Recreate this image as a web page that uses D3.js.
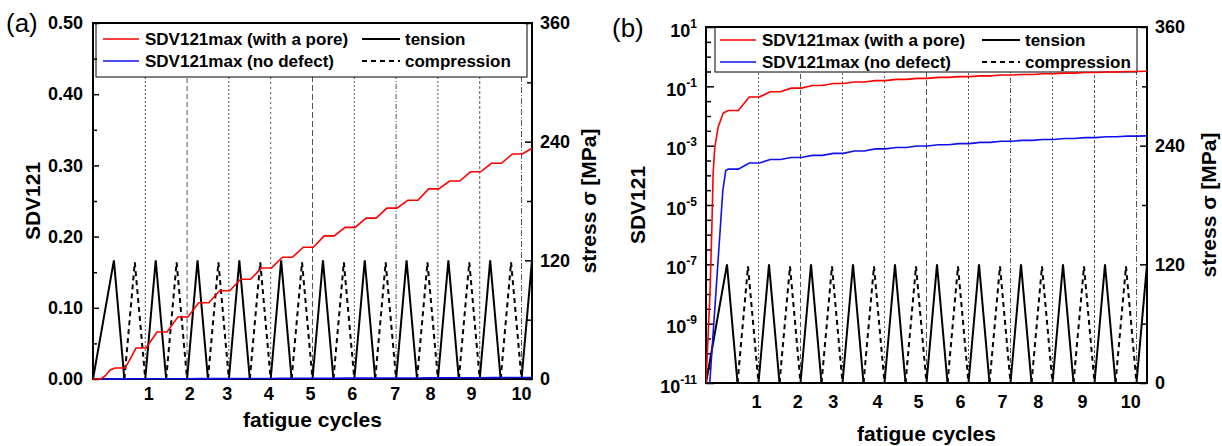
<!DOCTYPE html>
<html>
<head>
<meta charset="utf-8">
<script src="https://cdn.jsdelivr.net/npm/d3@7/dist/d3.min.js"></script>
<style>
    body { margin: 0; background: #fff; }
    text { font-family: Arial, 'Liberation Sans', sans-serif; }
</style>
</head>
<body>
<svg id="chart" width="1222" height="446"></svg>
<script>
// ---- data (time axis in load cycles) ----
const timeRange = [0, 10.5];
const linRange = [0, 0.5];
const logRange = [1e-11, 10];
const stressRange = [0, 360];

// peak times of the tension / compression half cycles
const tensionPeakT = [0.5, 1.5, 2.5, 3.5, 4.5, 5.5, 6.5, 7.5, 8.5, 9.5, 10.5];
const compressionPeakT = [1, 2, 3, 4, 5, 6, 7, 8, 9, 10];
const tensionPeak = 120;
const compressionPeak = 118;

// every load half cycle in order (tension, compression, ...)
const halfPeakT = [0.5, 1, 1.5, 2, 2.5, 3, 3.5, 4, 4.5, 5, 5.5, 6, 6.5, 7, 7.5, 8, 8.5, 9, 9.5, 10, 10.5];

// SDV121max after each half cycle
const poreSteps = [0.0154, 0.0435, 0.066, 0.087, 0.107, 0.124, 0.140, 0.156, 0.171, 0.185, 0.201,
                   0.213, 0.226, 0.240, 0.251, 0.267, 0.278, 0.291, 0.303, 0.316, 0.324];
const noDefectSteps = [1.62e-4, 2.6e-4, 3.4e-4, 4.0e-4, 4.7e-4, 5.5e-4, 6.6e-4, 7.8e-4, 8.7e-4, 9.8e-4, 1.07e-3,
                       1.17e-3, 1.29e-3, 1.41e-3, 1.51e-3, 1.62e-3, 1.74e-3, 1.86e-3, 2.0e-3, 2.09e-3, 2.14e-3];
// first loading ramp
const poreStart = [[0, 1e-11], [0.095, 1.1e-8], [0.136, 1.1e-6], [0.17, 1.2e-4], [0.21, 9e-4], [0.29, 4.3e-3], [0.41, 0.0126]];
const noDefectStart = [[0.09, 1e-11], [0.40, 3e-5], [0.47, 1.45e-4]];

// cycle boundaries and cycle labels
const cycleLines = [1.25, 2.25, 3.25, 4.25, 5.25, 6.25, 7.25, 8.25, 9.25, 10.25];
const cycleLabels = ['1', '2', '3', '4', '5', '6', '7', '8', '9', '10'];
const labelPosA = [1.32, 2.30, 3.20, 4.19, 5.19, 6.19, 7.22, 8.06, 9.04, 10.24];
const labelPosB = [1.19, 2.17, 3.02, 4.07, 5.05, 6.05, 7.05, 7.90, 8.95, 10.10];

const sdvTicks = [0, 0.1, 0.2, 0.3, 0.4, 0.5];
const sdvMinor = [0.05, 0.15, 0.25, 0.35, 0.45];
const logExp = [1, -1, -3, -5, -7, -9, -11];
const stressTicks = [0, 120, 240, 360];
const stressMinor = [60, 180, 300];

const legendSeries = ['SDV121max (with a pore)', 'SDV121max (no defect)'];
const legendLoads = ['tension', 'compression'];

const fontFamily = "Arial, 'Liberation Sans', sans-serif";
const red = '#ff0000', blue = '#1010ee';
const svg = d3.select('#chart');

function damagePath(start, steps) {
    let pts = start.slice();
    steps.forEach((v, j) => {
        let p = halfPeakT[j];
        if (j > 0) pts.push([p - 0.23, steps[j - 1]]);
        pts.push([Math.min(p + 0.03, timeRange[1]), v]);
    });
    return pts;
}

function drawPanel(p) {
    let g = svg.append('g');
    let x = d3.scaleLinear().domain(timeRange).range([p.left, p.right]);
    let y = p.log
        ? d3.scaleLog().domain(logRange).range([p.bottom, p.top])
        : d3.scaleLinear().domain(linRange).range([p.bottom, p.top]);
    let ys = d3.scaleLinear().domain(stressRange).range([p.bottom, p.top]);

    g.append('clipPath').attr('id', 'clip' + p.id)
        .append('rect')
        .attr('x', p.left).attr('y', p.top - 2)
        .attr('width', p.right - p.left).attr('height', p.bottom - p.top + 3);

    // cycle boundaries
    let dashes = ['2,2', '5,3', '2,2', '2,3', '6,3', '2,2', '5,2,1,2', '2,2', '3,2', '6,2,1,2'];
    g.append('g').selectAll('line')
        .data(cycleLines)
        .enter().append('line')
        .attr('x1', d => x(d)).attr('x2', d => x(d))
        .attr('y1', p.bottom).attr('y2', p.top)
        .attr('stroke', '#555')
        .attr('stroke-width', 1)
        .attr('stroke-dasharray', (d, i) => dashes[i]);

    let data = g.append('g').attr('clip-path', `url(#clip${p.id})`);
    let sline = d3.line().x(d => x(d[0])).y(d => ys(d[1]));

    // stress: tension (solid), compression (dashed)
    data.selectAll('.ten')
        .data(tensionPeakT)
        .enter().append('path')
        .attr('d', (t, i) => sline([[i === 0 ? 0 : t - 0.25, 0], [t, tensionPeak], [t + 0.25, 0]]))
        .attr('fill', 'none').attr('stroke', '#000').attr('stroke-width', 2);
    data.selectAll('.com')
        .data(compressionPeakT)
        .enter().append('path')
        .attr('d', t => sline([[t - 0.25, 0], [t, compressionPeak], [t + 0.25, 0]]))
        .attr('fill', 'none').attr('stroke', '#000').attr('stroke-width', 2)
        .attr('stroke-dasharray', '5,4');

    // legend box
    let lg = g.append('g');
    lg.append('rect')
        .attr('x', p.leg.x0).attr('y', p.top)
        .attr('width', p.leg.x1 - p.leg.x0).attr('height', p.leg.y1 - p.top)
        .attr('fill', '#fff').attr('stroke', '#000').attr('stroke-width', 1);

    // axes
    let axes = g.append('g').attr('font-family', fontFamily).attr('font-weight', 'bold');
    let styleAxis = sel => {
        sel.select('.domain').remove();
        sel.selectAll('line').attr('stroke', '#000').attr('stroke-width', 1.5);
        sel.selectAll('text').attr('font-size', '18px').attr('font-family', fontFamily).attr('fill', '#000');
    };

    if (p.log) {
        let minorE = d3.range(-11, 1.01, 0.5).filter(e => !logExp.includes(e));
        axes.append('g').attr('transform', `translate(${p.left},0)`)
            .call(d3.axisLeft(y).tickValues(minorE.map(e => Math.pow(10, e))).tickSize(-5).tickFormat(''))
            .call(styleAxis);
        let major = axes.append('g').attr('transform', `translate(${p.left},0)`)
            .call(d3.axisLeft(y).tickValues(logExp.map(e => Math.pow(10, e))).tickSize(-8).tickFormat(''))
            .call(styleAxis);
        major.selectAll('.tick').each(function (d, i) {
            let t = d3.select(this).append('text')
                .attr('x', -9).attr('y', 9)
                .attr('text-anchor', 'end')
                .attr('font-size', '18px').attr('font-family', fontFamily).attr('fill', '#000');
            t.append('tspan').text('10');
            t.append('tspan').attr('dy', -9).attr('font-size', '12px').text(logExp[i]);
        });
    } else {
        axes.append('g').attr('transform', `translate(${p.left},0)`)
            .call(d3.axisLeft(y).tickValues(sdvMinor).tickSize(-4).tickFormat(''))
            .call(styleAxis);
        axes.append('g').attr('transform', `translate(${p.left},0)`)
            .call(d3.axisLeft(y).tickValues(sdvTicks).tickSize(-6).tickPadding(10).tickFormat(d3.format('.2f')))
            .call(styleAxis);
    }
    axes.append('g').attr('transform', `translate(${p.right},0)`)
        .call(d3.axisRight(ys).tickValues(stressMinor).tickSize(-5).tickFormat(''))
        .call(styleAxis);
    axes.append('g').attr('transform', `translate(${p.right},0)`)
        .call(d3.axisRight(ys).tickValues(stressTicks).tickSize(-7).tickPadding(8).tickFormat(d => d))
        .call(styleAxis);
    axes.append('g').attr('transform', `translate(0,${p.bottom})`)
        .call(d3.axisBottom(x).tickValues(p.labelPos).tickSize(0).tickPadding(p.xPad)
            .tickFormat((d, i) => cycleLabels[i]))
        .call(styleAxis);

    // frame
    axes.append('rect')
        .attr('x', p.left).attr('y', p.top)
        .attr('width', p.right - p.left).attr('height', p.bottom - p.top)
        .attr('fill', 'none').attr('stroke', '#000').attr('stroke-width', 2);

    // damage curves
    let dline = d3.line().x(d => x(d[0])).y(d => y(d[1]));
    let top = g.append('g').attr('clip-path', `url(#clip${p.id})`);
    top.append('path').attr('d', dline(damagePath(noDefectStart, noDefectSteps)))
        .attr('fill', 'none').attr('stroke', blue).attr('stroke-width', 1.6);
    top.append('path').attr('d', dline(damagePath(poreStart, poreSteps)))
        .attr('fill', 'none').attr('stroke', red).attr('stroke-width', 1.6);

    // legend contents
    let rows = [p.leg.r1, p.leg.r2];
    [red, blue].forEach((c, i) => {
        lg.append('line')
            .attr('x1', p.leg.s0).attr('x2', p.leg.s0 + 36)
            .attr('y1', rows[i]).attr('y2', rows[i])
            .attr('stroke', c).attr('stroke-width', 1.6);
        lg.append('text')
            .attr('x', p.leg.s0 + 42).attr('y', rows[i]).attr('dy', '0.35em')
            .attr('font-size', '17px').attr('font-weight', 'bold')
            .text(legendSeries[i]);
    });
    legendLoads.forEach((name, i) => {
        lg.append('line')
            .attr('x1', p.leg.l0).attr('x2', p.leg.l0 + 38)
            .attr('y1', rows[i]).attr('y2', rows[i])
            .attr('stroke', '#000').attr('stroke-width', 2)
            .attr('stroke-dasharray', i === 0 ? null : '5,4');
        lg.append('text')
            .attr('x', p.leg.l0 + 43).attr('y', rows[i]).attr('dy', '0.35em')
            .attr('font-size', '17px').attr('font-weight', 'bold')
            .text(name);
    });

    // titles
    g.append('text')
        .attr('x', (p.left + p.right) / 2).attr('y', p.xTitleY)
        .attr('text-anchor', 'middle')
        .attr('font-size', '21px').attr('font-weight', 'bold')
        .text('fatigue cycles');
    g.append('text')
        .attr('transform', `translate(${p.yTitleX}, ${(p.top + p.bottom) / 2}) rotate(-90)`)
        .attr('text-anchor', 'middle')
        .attr('font-size', '21px').attr('font-weight', 'bold')
        .text('SDV121');
    g.append('text')
        .attr('transform', `translate(${p.sTitleX}, ${(p.top + p.bottom) / 2}) rotate(-90)`)
        .attr('text-anchor', 'middle')
        .attr('font-size', '21px').attr('font-weight', 'bold')
        .text('stress σ [MPa]');
    g.append('text')
        .attr('x', p.tag[0]).attr('y', p.tag[1])
        .attr('font-size', '26px')
        .text(p.tagText);
}

drawPanel({
    id: 'a', log: false, left: 93, right: 532, top: 23, bottom: 379,
    labelPos: labelPosA, xPad: 8, xTitleY: 427, yTitleX: 40, sTitleX: 596,
    leg: {x0: 96, x1: 527, y1: 77, r1: 39, r2: 61, s0: 103, l0: 362},
    tag: [6, 32], tagText: '(a)'
});
drawPanel({
    id: 'b', log: true, left: 706, right: 1147, top: 27, bottom: 383,
    labelPos: labelPosB, xPad: 12, xTitleY: 441, yTitleX: 645, sTitleX: 1216,
    leg: {x0: 715, x1: 1137, y1: 72, r1: 40, r2: 62, s0: 720, l0: 982},
    tag: [612, 37], tagText: '(b)'
});
</script>
</body>
</html>
